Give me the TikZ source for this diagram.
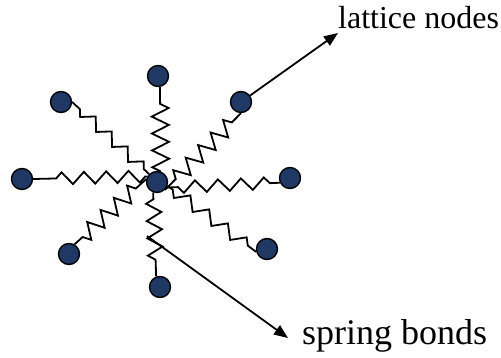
\documentclass[tikz,border=0pt]{standalone}
\usepackage{fontspec}
\setmainfont{Liberation Serif}
\usetikzlibrary{decorations.pathmorphing, arrows.meta, backgrounds}
\definecolor{latticeblue}{RGB}{31,56,100}

\begin{document}
\begin{tikzpicture}[x=1pt, y=1pt,
    lattice/.style={circle, draw=black, line width=1.4pt, fill=latticeblue,
                    minimum size=21pt, inner sep=0pt},
    spring/.style={decorate, line width=1.8pt, line join=miter, decoration={zigzag, #1}},
    pointer/.style={line width=1.8pt, -{Triangle[length=14pt, width=11pt]}},
    label/.style={anchor=base west, inner sep=0pt}]
            % Fixed Bounding Box
            \useasboundingbox (0,0) rectangle (501,358);

            % Lattice nodes, the centre one and its eight neighbours
            \node[lattice] (c)   at (157,176) {};
            \node[lattice] (nT)  at (158,282) {};
            \node[lattice] (nTL) at (61,256)  {};
            \node[lattice] (nTR) at (241,256) {};
            \node[lattice] (nL)  at (22,179)  {};
            \node[lattice] (nR)  at (290,180) {};
            \node[lattice] (nBL) at (69,104)  {};
            \node[lattice] (nBR) at (267,109) {};
            \node[lattice] (nB)  at (160,71)  {};

            % Spring bonds, kept under the nodes
            \begin{scope}[on background layer]
                \fill[white] (0,0) rectangle (501,358);
                \draw[spring={segment length=16.9pt, amplitude=8.5pt, pre length=0pt, post length=15pt}]
                    (c.70) -- (nT.-80);
                \draw[spring={segment length=17.7pt, amplitude=8pt, pre length=15.4pt, post length=10pt}]
                    (c.south east) -- (nTR.south);
                \draw[spring={segment length=23pt, amplitude=-6pt, pre length=11.2pt, post length=8pt}]
                    (c.-30) -- (nR.205);
                \draw[spring={segment length=23.4pt, amplitude=-6pt, pre length=6.5pt, post length=8pt}]
                    (c.-20) -- (nBR.195);
                \draw[spring={segment length=17.3pt, amplitude=-7.5pt, pre length=6.7pt, post length=13pt}]
                    (c.250) -- (nB.110);
                \draw[spring={segment length=18pt, amplitude=-8pt, pre length=14pt, post length=8pt}]
                    (c.165) -- (nBL.60);
                \draw[spring={segment length=22.3pt, amplitude=6pt, pre length=2pt, post length=20pt}]
                    (c.150) -- (nL.east);
                \draw[spring={segment length=21.9pt, amplitude=-5.5pt, pre length=7.2pt, post length=6pt}]
                    (c.135) -- (nTL.east);
            \end{scope}

            % Labels and arrows
            \node[label, font=\fontsize{32}{38}\selectfont] (lnodes) at (338,329) {lattice nodes};
            \node[label, font=\fontsize{36}{43}\selectfont] (lbonds) at (302,13) {spring bonds};
            \coordinate (sb) at (147,122);
            \draw[pointer] (nTR) -- ([yshift=-4pt]lnodes.base west);
            \draw[pointer] (sb) -- ([shift={(-14pt,7pt)}]lbonds.base west);
        \end{tikzpicture}
\end{document}
